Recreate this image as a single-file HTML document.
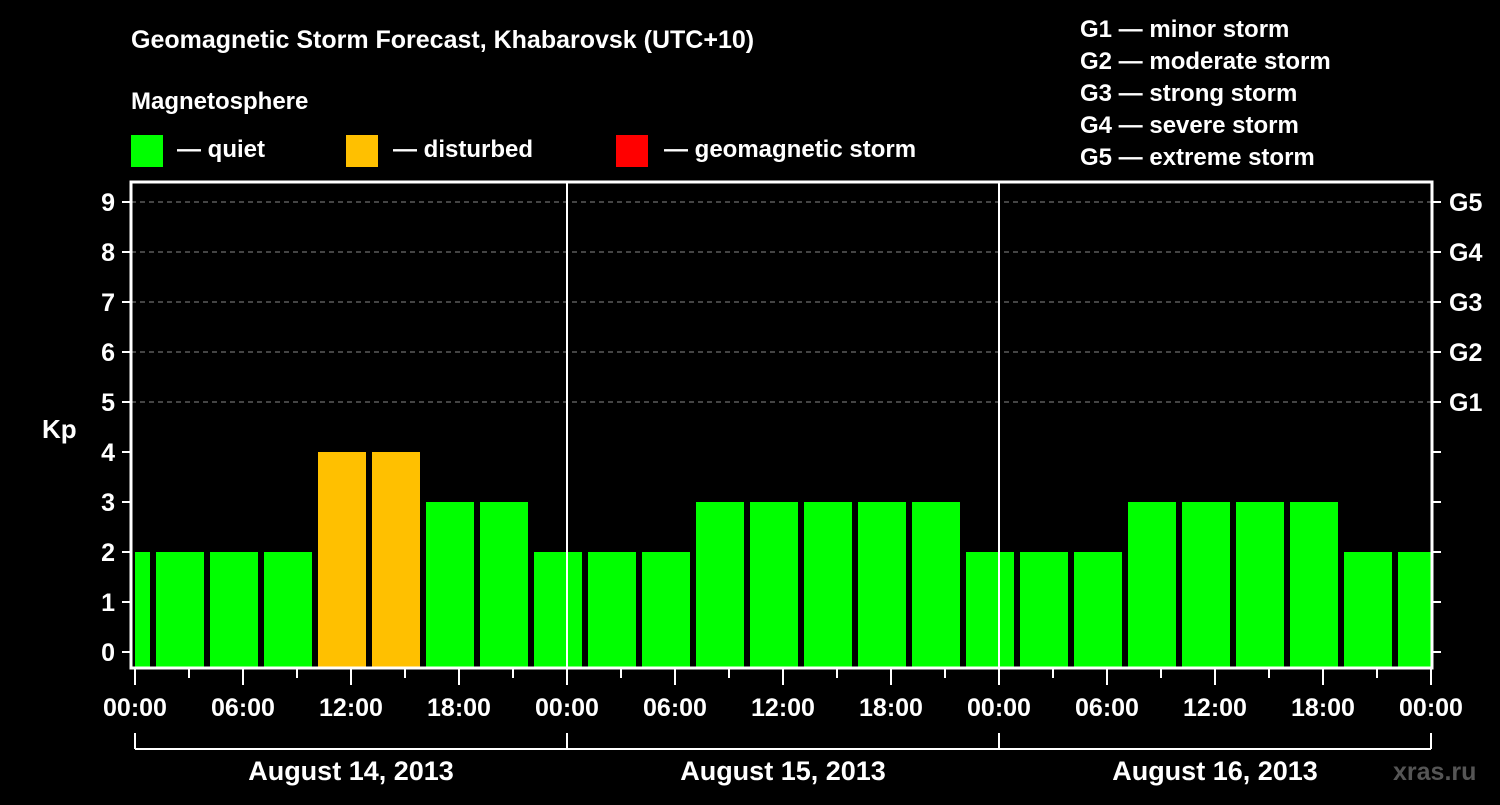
<!DOCTYPE html>
<html><head><meta charset="utf-8"><style>
body{margin:0;background:#000;width:1500px;height:800px;overflow:hidden}
svg text{font-family:"Liberation Sans",Arial,sans-serif;font-weight:bold;fill:#fff}
</style></head><body>
<svg id="chart" width="1500" height="800" xmlns="http://www.w3.org/2000/svg">
<text x="131" y="48" font-size="25">Geomagnetic Storm Forecast, Khabarovsk (UTC+10)</text>
<text x="131" y="109" font-size="24">Magnetosphere</text>
<g font-size="24">
<rect x="131" y="135" width="32" height="32" fill="#00ff00"/>
<text x="177" y="157">— quiet</text>
<rect x="346" y="135" width="32" height="32" fill="#ffc000"/>
<text x="393" y="157">— disturbed</text>
<rect x="616" y="135" width="32" height="32" fill="#ff0000"/>
<text x="664" y="157">— geomagnetic storm</text>
</g>
<g font-size="24">
<text x="1080" y="37">G1 — minor storm</text>
<text x="1080" y="69">G2 — moderate storm</text>
<text x="1080" y="101">G3 — strong storm</text>
<text x="1080" y="133">G4 — severe storm</text>
<text x="1080" y="165">G5 — extreme storm</text>
</g>
<text x="42" y="438" font-size="26">Kp</text>
<text x="1393" y="780" font-size="25" style="fill:#555">xras.ru</text>
<g id="grid"></g><g id="bars"></g><g id="axes"></g>
</svg>
<script>
const kpValues=[2,2,2,2,4,4,3,3,2,2,2,3,3,3,3,3,2,2,2,3,3,3,3,2,2];
const barStartHours=[-2,1,4,7,10,13,16,19,22,25,28,31,34,37,40,43,46,49,52,55,58,61,64,67,70];
const yTicks=[0,1,2,3,4,5,6,7,8,9];
const gLabels=["G1","G2","G3","G4","G5"];
const gKp=[5,6,7,8,9];
const xTickLabels=["00:00","06:00","12:00","18:00"];
const days=["August 14, 2013","August 15, 2013","August 16, 2013"];
const X0=135,PXH=18,L=131,R=1432,T=182,B=668;
const x=h=>X0+h*PXH, y=k=>652-50*k;
const NS="http://www.w3.org/2000/svg";
function mk(tag,attrs,parent,txt){const e=document.createElementNS(NS,tag);for(const k in attrs)e.setAttribute(k,attrs[k]);if(txt!==undefined)e.textContent=txt;parent.appendChild(e);return e;}
const grid=document.getElementById('grid'),bars=document.getElementById('bars'),axes=document.getElementById('axes');
gKp.forEach(k=>{const l=mk('line',{x1:L,x2:R,y1:y(k),y2:y(k),stroke:'#888','stroke-width':1,'stroke-dasharray':'5,4'},grid);

});
kpValues.forEach((v,i)=>{let a=x(barStartHours[i])+3,b=x(barStartHours[i]+3)-3;a=Math.max(a,X0);b=Math.min(b,R-1);
const r=mk('rect',{x:a,y:y(v),width:b-a,height:B-1-y(v),fill:v>=5?'#ff0000':(v>=4?'#ffc000':'#00ff00')},bars);

});
[1,2].forEach(d=>{const l=mk('line',{x1:x(24*d),x2:x(24*d),y1:T,y2:B,stroke:'#fff','stroke-width':2},axes);

});
const fr=mk('rect',{x:L,y:T,width:R-L,height:B-T,fill:'none',stroke:'#fff','stroke-width':3},axes);


yTicks.forEach(k=>{mk('line',{x1:122,x2:L,y1:y(k),y2:y(k),stroke:'#fff','stroke-width':2},axes);
mk('line',{x1:R,x2:1441,y1:y(k),y2:y(k),stroke:'#fff','stroke-width':2},axes);
const t=mk('text',{x:115,y:y(k)+9,'font-size':25,'text-anchor':'end'},axes,String(k));

});
gLabels.forEach((g,i)=>{const t=mk('text',{x:1449,y:y(gKp[i])+9,'font-size':25},axes,g);

});
for(let h=0;h<=72;h+=3){const major=h%6===0;mk('line',{x1:x(h),x2:x(h),y1:B,y2:major?685:678,stroke:'#fff','stroke-width':2},axes);
if(major){const t=mk('text',{x:x(h),y:716,'font-size':25,'text-anchor':'middle'},axes,xTickLabels[(h/6)%4]);

}}
mk('line',{x1:x(0),x2:x(72),y1:749,y2:749,stroke:'#fff','stroke-width':2},axes);
for(let d=0;d<=3;d++)mk('line',{x1:x(24*d),x2:x(24*d),y1:733,y2:749,stroke:'#fff','stroke-width':2},axes);
days.forEach((s,d)=>{const t=mk('text',{x:x(24*d+12),y:780,'font-size':27,'text-anchor':'middle'},axes,s);

});
</script>
</body></html>
